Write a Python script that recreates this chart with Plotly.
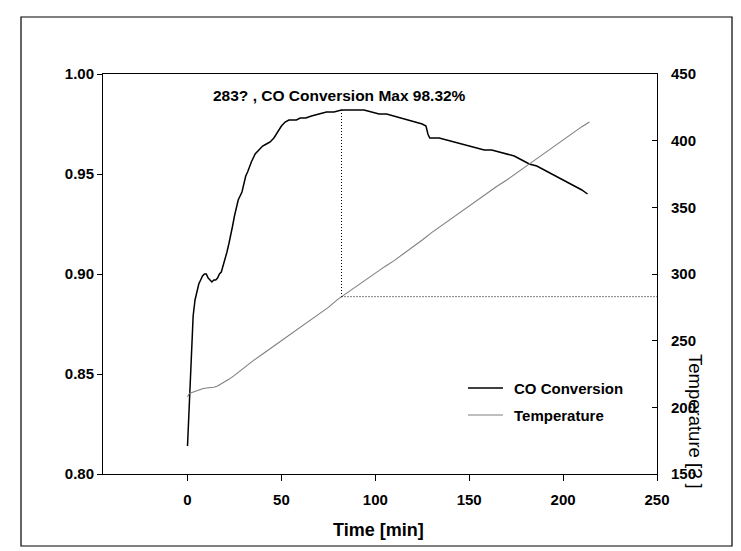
import plotly.graph_objects as go

# ---------------- data ----------------
time_co = [0, 0.5, 1, 1.5, 2, 2.5, 3, 4, 5, 6, 7, 8, 9, 10, 11, 12, 13, 14, 15, 16,
           17, 18, 19, 20, 21, 22, 23, 24, 25, 26, 27, 28, 29, 30, 31, 32, 33, 34,
           35, 36, 38, 40, 42, 44, 46, 48, 50, 52, 54, 56, 58, 60, 63, 66, 70, 74,
           78, 82, 86, 90, 94, 98, 102, 106, 110, 114, 118, 122, 125, 127, 128,
           129, 131, 134, 138, 142, 146, 150, 154, 158, 162, 166, 170, 174, 178,
           182, 186, 190, 194, 198, 202, 206, 210, 213]
co_conversion = [0.814, 0.826, 0.840, 0.852, 0.862, 0.873, 0.879, 0.887, 0.892, 0.895,
                 0.897, 0.899, 0.900, 0.900, 0.898, 0.897, 0.896, 0.897, 0.897, 0.898,
                 0.900, 0.901, 0.904, 0.907, 0.911, 0.915, 0.919, 0.924, 0.929, 0.933,
                 0.937, 0.939, 0.941, 0.945, 0.949, 0.951, 0.954, 0.956, 0.958, 0.960,
                 0.962, 0.964, 0.965, 0.966, 0.968, 0.971, 0.974, 0.976, 0.977, 0.977,
                 0.977, 0.978, 0.978, 0.979, 0.980, 0.981, 0.981, 0.982, 0.982, 0.982,
                 0.982, 0.981, 0.980, 0.980, 0.979, 0.978, 0.977, 0.976, 0.975, 0.974,
                 0.970, 0.968, 0.968, 0.968, 0.967, 0.966, 0.965, 0.964, 0.963, 0.962,
                 0.962, 0.961, 0.960, 0.959, 0.957, 0.955, 0.954, 0.952, 0.950, 0.948,
                 0.946, 0.944, 0.942, 0.940]

time_temp = [0, 1, 2, 4, 6, 8, 10, 12, 14, 16, 18, 20, 22, 25, 28, 31, 35, 40, 45, 50,
             55, 60, 65, 70, 75, 80, 85, 90, 95, 100, 105, 110, 115, 120, 125, 130,
             135, 140, 145, 150, 155, 160, 165, 170, 175, 180, 185, 190, 195, 200,
             205, 210, 214]
temperature = [208, 210.5, 211, 212, 213.5, 214, 214.5, 214.5, 215, 216, 217.5, 219,
               221, 224, 227.5, 231, 235, 240, 245, 250, 255, 260, 265, 270, 275, 281,
               286, 291, 296, 300.5, 305.5, 310, 315, 320.5, 325.5, 331, 336, 341.5,
               346.5, 351.5, 356, 361, 366, 370.5, 375.5, 380.5, 385.5, 391, 395.5,
               400.5, 405.5, 410.5, 414]

x_ticks = [0, 50, 100, 150, 200, 250]
y_ticks = [0.80, 0.85, 0.90, 0.95, 1.00]
y2_ticks = [150, 200, 250, 300, 350, 400, 450]

t_at_max = 82          # time of maximum conversion
temp_at_max = 283      # temperature at maximum conversion
title_text = "283? , CO Conversion Max 98.32%"
series_names = ["CO Conversion", "Temperature"]

x_range = [-45, 250]
y_range = [0.80, 1.00]
y2_range = [150, 450]

FONT = "Liberation Sans, Arial, sans-serif"

fig = go.Figure()
fig.add_trace(go.Scatter(x=time_co, y=co_conversion, mode="lines", name=series_names[0],
                         line=dict(color="black", width=1.5), showlegend=False))
fig.add_trace(go.Scatter(x=time_temp, y=temperature, mode="lines", name=series_names[1],
                         yaxis="y2", line=dict(color="#7f7f7f", width=1.1),
                         showlegend=False))

# dotted guide lines at maximum conversion
co_max = max(co_conversion)
y_at_temp = y_range[0] + (temp_at_max - y2_range[0]) / (y2_range[1] - y2_range[0]) * (y_range[1] - y_range[0])
fig.add_shape(type="line", xref="x", yref="y", x0=t_at_max, x1=t_at_max,
              y0=co_max, y1=y_at_temp, line=dict(color="black", width=1, dash="1px,2px"))
fig.add_shape(type="line", xref="x", yref="y2", x0=t_at_max, x1=x_range[1],
              y0=temp_at_max, y1=temp_at_max, line=dict(color="black", width=1, dash="1px,2px"))

# outer frame
fig.add_shape(type="rect", xref="paper", yref="paper", x0=-0.148, x1=1.1354,
              y0=-0.18, y1=1.1425, line=dict(color="black", width=1.2))

# manual legend
leg_y = [0.215, 0.1475]
leg_col = ["black", "#7f7f7f"]
leg_w = [1.5, 1.1]
for name, yy, c, w in zip(series_names, leg_y, leg_col, leg_w):
    fig.add_shape(type="line", xref="paper", yref="paper", x0=0.6588, x1=0.722,
                  y0=yy, y1=yy, line=dict(color=c, width=w))
    fig.add_annotation(x=0.7377, y=yy, xref="paper", yref="paper", text=name,
                       showarrow=False, xanchor="left", yanchor="middle",
                       font=dict(family=FONT, size=15, color="black", weight="bold"))

# title annotation
fig.add_annotation(x=0.427, y=0.9475, xref="paper", yref="paper", text=title_text,
                   showarrow=False, xanchor="center", yanchor="middle",
                   font=dict(family=FONT, size=15.5, color="black", weight="bold"))

# axis titles
fig.add_annotation(x=0.4964, y=-0.14, xref="paper", yref="paper", text="Time [min]",
                   showarrow=False, xanchor="center", yanchor="middle",
                   font=dict(family=FONT, size=18, color="black", weight="bold"))
fig.add_annotation(x=1.0704, y=0.1325, xref="paper", yref="paper", text="Temperature [? ]",
                   showarrow=False, xanchor="center", yanchor="middle", textangle=90,
                   font=dict(family=FONT, size=18.5, color="black"))

tickfont = dict(family=FONT, size=15, color="black", weight="bold")
fig.update_layout(
    width=741, height=551,
    margin=dict(l=103, r=84, t=74, b=77),
    paper_bgcolor="white", plot_bgcolor="white",
    showlegend=False,
    xaxis=dict(range=x_range, tickvals=x_ticks, ticks="outside", ticklen=6,
               tickcolor="black", showline=True, linecolor="black", linewidth=1,
               mirror=True, showgrid=False, zeroline=False, tickfont=tickfont,
               ticklabelstandoff=6),
    yaxis=dict(range=y_range, tickvals=y_ticks, tickformat=".2f", ticks="outside",
               ticklen=5, tickcolor="black", showline=True, linecolor="black",
               linewidth=1, showgrid=False, zeroline=False, tickfont=tickfont),
    yaxis2=dict(range=y2_range, tickvals=y2_ticks, overlaying="y", side="right",
                ticks="inside", ticklen=5, tickcolor="black", showline=True,
                linecolor="black", linewidth=1, showgrid=False, zeroline=False,
                tickfont=tickfont, ticklabelstandoff=10),
)

fig.write_html("out.html", config={"displayModeBar": False},
               post_script="document.body.style.margin='0px';document.body.style.overflow='hidden';")
